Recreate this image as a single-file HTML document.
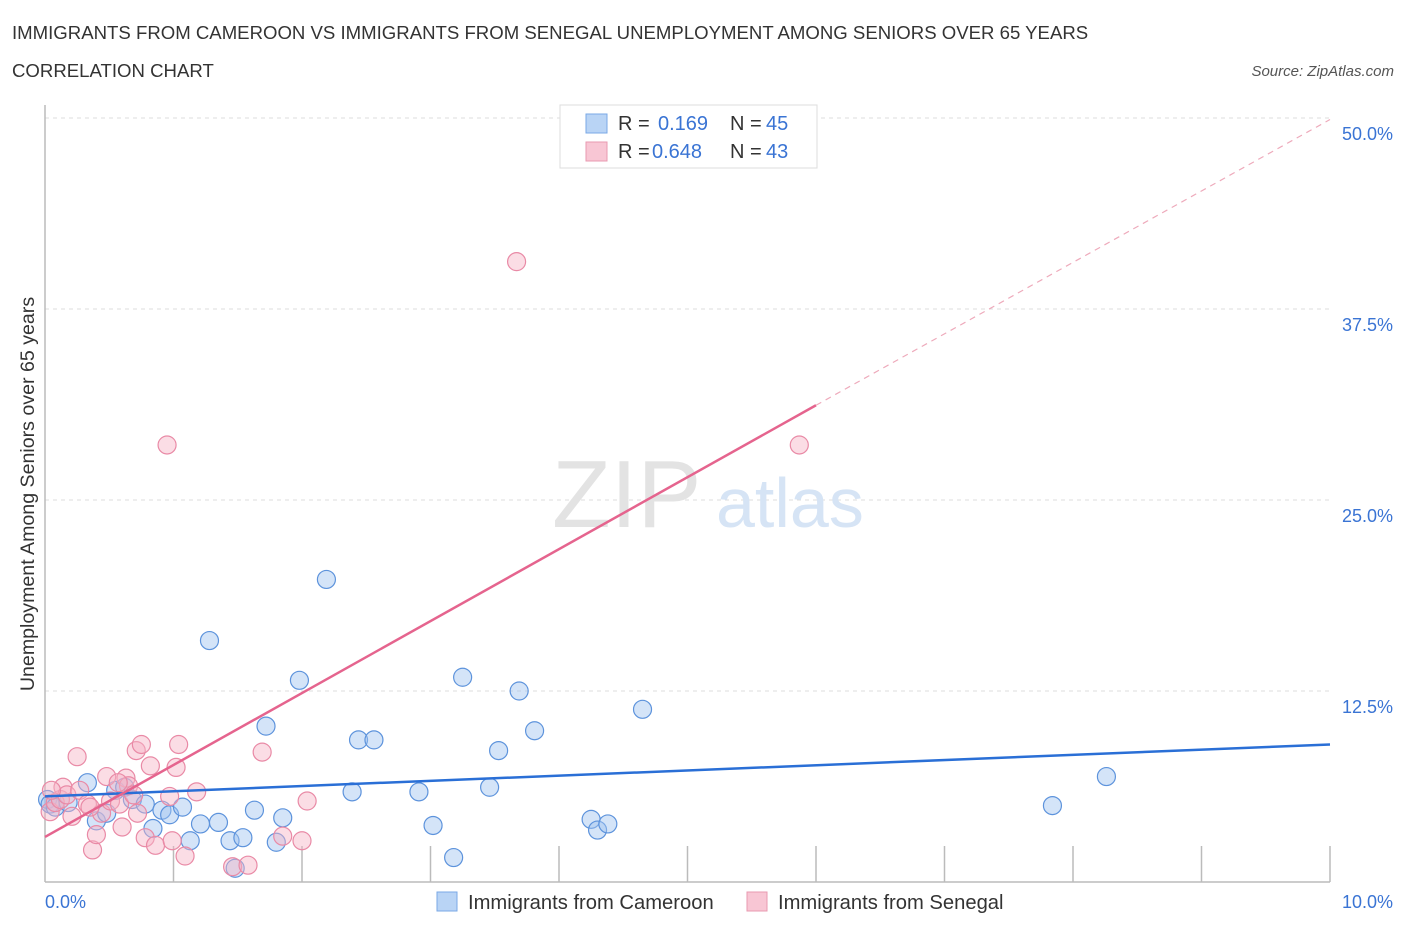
<!DOCTYPE html>
<html><head><meta charset="utf-8">
<style>
body{margin:0;background:#fff;font-family:"Liberation Sans",sans-serif;}
svg text{font-family:"Liberation Sans",sans-serif;}
</style></head>
<body>
<svg id="chart" width="1406" height="930" xmlns="http://www.w3.org/2000/svg">
<text x="12" y="39" font-size="18.6" fill="#333">IMMIGRANTS FROM CAMEROON VS IMMIGRANTS FROM SENEGAL UNEMPLOYMENT AMONG SENIORS OVER 65 YEARS</text>
<text x="12" y="77" font-size="18.6" fill="#333">CORRELATION CHART</text>
<text x="1394" y="76" font-size="15" fill="#555" font-style="italic" text-anchor="end">Source: ZipAtlas.com</text>
<g id="grid"></g>
<g>
<text x="552" y="527" font-size="96" fill="#e3e3e3" font-family="Liberation Serif">ZIP</text>
<text x="716" y="527" font-size="70" fill="#d6e4f5">atlas</text>
</g>
<g id="axes"></g>
<g id="marks"></g>
<text transform="translate(34,494) rotate(-90)" font-size="19.6" fill="#333" text-anchor="middle">Unemployment Among Seniors over 65 years</text>
<g>
<rect x="560" y="105" width="257" height="63" fill="#fff" stroke="#ddd"/>
<rect x="586" y="114" width="21" height="19" fill="#b9d4f5" stroke="#7aa8e6"/>
<rect x="586" y="142" width="21" height="19" fill="#f8c6d4" stroke="#e89ab0"/>
<text x="618" y="130" font-size="20" fill="#333">R = </text><text x="658" y="130" font-size="20" fill="#3a74d4">0.169</text>
<text x="730" y="130" font-size="20" fill="#333">N = </text><text x="766" y="130" font-size="20" fill="#3a74d4">45</text>
<text x="618" y="158" font-size="20" fill="#333">R = </text><text x="652" y="158" font-size="20" fill="#3a74d4">0.648</text>
<text x="730" y="158" font-size="20" fill="#333">N = </text><text x="766" y="158" font-size="20" fill="#3a74d4">43</text>
</g>
<g>
<rect x="437" y="892" width="20" height="19" fill="#b9d4f5" stroke="#7aa8e6"/>
<text x="468" y="909" font-size="20.2" fill="#333">Immigrants from Cameroon</text>
<rect x="747" y="892" width="20" height="19" fill="#f8c6d4" stroke="#e89ab0"/>
<text x="778" y="909" font-size="20.2" fill="#333">Immigrants from Senegal</text>
</g>
</svg>
<script>
const xTicks=[0,1,2,3,4,5,6,7,8,9,10];
const yTicks=[12.5,25,37.5,50];
const yTickLabels=["12.5%","25.0%","37.5%","50.0%"];
const camX=[0.02,0.04,0.08,0.18,0.33,0.40,0.48,0.55,0.62,0.68,0.78,0.84,0.91,0.97,1.07,1.13,1.21,1.28,1.35,1.44,1.48,1.54,1.63,1.72,1.80,1.85,1.98,2.19,2.39,2.44,2.56,2.91,3.02,3.18,3.25,3.46,3.53,3.69,3.81,4.25,4.30,4.38,4.65,7.84,8.26];
const camY=[5.4,5.1,4.9,5.2,6.5,4.0,4.5,6.0,6.2,5.4,5.1,3.5,4.7,4.4,4.9,2.7,3.8,15.8,3.9,2.7,0.9,2.9,4.7,10.2,2.6,4.2,13.2,19.8,5.9,9.3,9.3,5.9,3.7,1.6,13.4,6.2,8.6,12.5,9.9,4.1,3.4,3.8,11.3,5.0,6.9];
const senX=[0.04,0.08,0.12,0.14,0.17,0.21,0.25,0.27,0.33,0.37,0.40,0.44,0.48,0.51,0.58,0.60,0.63,0.65,0.71,0.72,0.75,0.78,0.82,0.86,0.95,0.97,0.99,1.02,1.04,1.09,1.18,1.46,1.58,1.69,1.85,2.00,2.04,3.67,5.87,0.05,0.57,0.35,0.69];
const senY=[4.6,5.2,5.4,6.2,5.7,4.3,8.2,6.0,5.1,2.1,3.1,4.5,6.9,5.3,5.1,3.6,6.8,6.3,8.6,4.5,9.0,2.9,7.6,2.4,28.6,5.6,2.7,7.5,9.0,1.7,5.9,1.0,1.1,8.5,3.0,2.7,5.3,40.6,28.6,6.0,6.5,4.9,5.7];
const camTrend=[0,10];const camTrendY=[5.6,9.0];
const senTrendX=[0,6,10];const senTrendY=[2.95,31.2,49.9];
const X=v=>45+v/10*1285, Y=v=>882-v/12.5*191;
const NS="http://www.w3.org/2000/svg";
function mk(p,t,a){const e=document.createElementNS(NS,t);for(const k in a)e.setAttribute(k,a[k]);p.appendChild(e);return e;}
const grid=document.getElementById('grid'),axes=document.getElementById('axes'),marks=document.getElementById('marks');
yTicks.forEach((t,i)=>{
 const l=mk(grid,'line',{x1:45,x2:1330,y1:Y(t),y2:Y(t),stroke:'#ddd','stroke-dasharray':'4,4'});
 
 
 const tx=mk(axes,'text',{x:1393,y:Y(t)+22,'font-size':18,fill:'#3a74d4','text-anchor':'end'});tx.textContent=yTickLabels[i];
 
 
});
const ax=mk(axes,'line',{x1:45,x2:1330,y1:882,y2:882,stroke:'#bbb','stroke-width':1.5});


const ay=mk(axes,'line',{x1:45,x2:45,y1:105,y2:882,stroke:'#bbb','stroke-width':1.5});


xTicks.forEach(t=>{if(t===0)return;const l=mk(axes,'line',{x1:X(t),x2:X(t),y1:846,y2:882,stroke:'#bbb','stroke-width':1.5});
 
 });
const x0=mk(axes,'text',{x:45,y:908,'font-size':18,fill:'#3a74d4'});x0.textContent='0.0%';


const x1=mk(axes,'text',{x:1393,y:908,'font-size':18,fill:'#3a74d4','text-anchor':'end'});x1.textContent='10.0%';


camX.forEach((v,i)=>{const c=mk(marks,'circle',{cx:X(v),cy:Y(camY[i]),r:9,fill:'rgba(160,196,240,0.45)',stroke:'#5d93dc','stroke-width':1.2});
 
 });
senX.forEach((v,i)=>{const c=mk(marks,'circle',{cx:X(v),cy:Y(senY[i]),r:9,fill:'rgba(246,180,198,0.45)',stroke:'#e98aa6','stroke-width':1.2});
 
 });
const bt=mk(marks,'line',{x1:X(camTrend[0]),y1:Y(camTrendY[0]),x2:X(camTrend[1]),y2:Y(camTrendY[1]),stroke:'#2a6fd6','stroke-width':2.5});


const pt=mk(marks,'line',{x1:X(senTrendX[0]),y1:Y(senTrendY[0]),x2:X(senTrendX[1]),y2:Y(senTrendY[1]),stroke:'#e5648e','stroke-width':2.5});


const pd=mk(marks,'line',{x1:X(senTrendX[1]),y1:Y(senTrendY[1]),x2:X(senTrendX[2]),y2:Y(senTrendY[2]),stroke:'#eeaabb','stroke-width':1.2,'stroke-dasharray':'6,5'});


</script>
</body></html>
